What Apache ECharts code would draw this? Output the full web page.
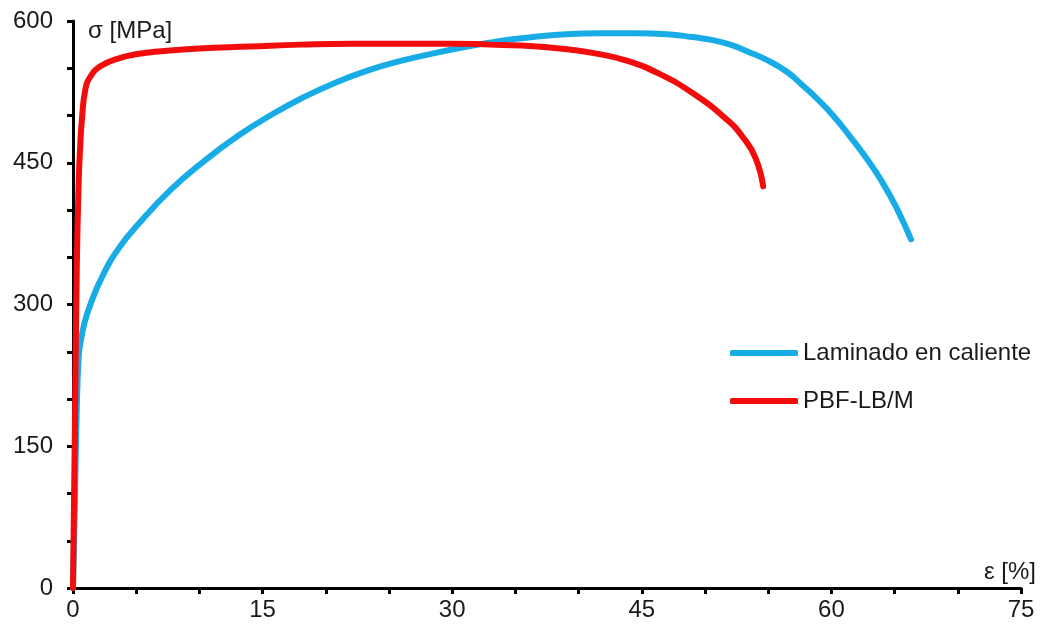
<!DOCTYPE html>
<html>
<head>
<meta charset="utf-8">
<script src="https://cdn.jsdelivr.net/npm/echarts@6/dist/echarts.min.js"></script>
<style>
  html, body { margin: 0; padding: 0; background: #fff; }
  #chart { width: 1043px; height: 632px; }
</style>
</head>
<body>
<div id="chart"></div>
<script>
// Tensile stress–strain curves: hot-rolled vs. PBF-LB/M
const seriesNames = ['Laminado en caliente', 'PBF-LB/M'];

// Hot-rolled: strain [%] and stress [MPa]
const laminadoStrain = [0, 0.15, 0.3, 0.45, 0.6, 0.9, 1.4, 2.4, 3.7, 5.1, 7.7, 10.3, 13.0, 15.6, 18.2, 20.8, 23.4, 26.0, 28.6, 31.2, 33.8, 36.4, 39.0, 41.7, 44.5, 47.0, 49.0, 50.5, 52.0, 53.5, 55.0, 56.5, 57.8, 59.0, 60.2, 61.4, 62.7, 64.0, 65.2, 66.3];
const laminadoStress = [0, 90, 190, 245, 260, 280, 301, 332, 361, 384, 421, 451, 478, 500, 519, 535, 548, 558, 566, 573, 579, 583, 586, 587, 587, 586, 583, 580, 575, 567, 558, 546, 531, 516, 499, 479, 456, 430, 401, 369];

// PBF-LB/M: strain [%] and stress [MPa]
const pbfStrain = [0, 0.15, 0.3, 0.45, 0.58, 0.7, 0.97, 1.37, 2.16, 3.5, 5.1, 7.0, 10.0, 14.0, 18.0, 22.0, 26.0, 30.0, 33.0, 35.5, 38.5, 41.2, 43.8, 46.4, 49.1, 51.7, 53.0, 54.0, 54.6];
const pbfStress = [0, 170, 340, 430, 470, 495, 527, 541, 552, 560, 565, 568, 571, 573, 575, 576, 576, 576, 575, 574, 571, 566, 558, 544, 523, 496, 477, 455, 425];

const xTicks = [0, 15, 30, 45, 60, 75];
const yTicks = [0, 150, 300, 450, 600];

const pairs = (xs, ys) => xs.map((x, i) => [x, ys[i]]);
const ink = '#1a1a1a';
const font = 'Liberation Sans, Arial, sans-serif';

const chart = echarts.init(document.getElementById('chart'), null, { renderer: 'canvas' });
chart.setOption({
  backgroundColor: '#ffffff',
  animation: false,
  grid: { left: 73, right: 22, top: 21, bottom: 44, containLabel: false },
  legend: {
    orient: 'vertical',
    left: 730,
    top: 341,
    padding: 0,
    itemWidth: 68,
    itemHeight: 6,
    itemGap: 24,
    icon: 'roundRect',
    textStyle: { fontSize: 24, color: ink, fontFamily: font, lineHeight: 24 },
    data: seriesNames
  },
  xAxis: {
    type: 'value',
    min: xTicks[0],
    max: xTicks[xTicks.length - 1],
    interval: 15,
    name: 'ε [%]',
    nameLocation: 'end',
    nameGap: -11,
    nameTextStyle: { fontSize: 24, color: ink, fontFamily: font, align: 'center', verticalAlign: 'bottom', padding: [0, 0, 4, 0] },
    axisLine: { onZero: false, lineStyle: { color: '#000', width: 3 } },
    axisTick: { show: true, inside: false, length: 6, lineStyle: { color: '#000', width: 3 } },
    minorTick: { show: true, splitNumber: 3, length: 6, lineStyle: { color: '#000', width: 3 } },
    axisLabel: { fontSize: 24, color: ink, fontFamily: font, margin: 10 },
    splitLine: { show: false }
  },
  yAxis: {
    type: 'value',
    min: yTicks[0],
    max: yTicks[yTicks.length - 1],
    interval: 150,
    name: 'σ [MPa]',
    nameLocation: 'end',
    nameGap: -10,
    nameTextStyle: { fontSize: 24, color: ink, fontFamily: font, align: 'left', verticalAlign: 'middle', padding: [0, 0, 0, 15] },
    axisLine: { onZero: false, lineStyle: { color: '#000', width: 3 } },
    axisTick: { show: true, inside: false, length: 6, lineStyle: { color: '#000', width: 3 } },
    minorTick: { show: true, splitNumber: 3, length: 6, lineStyle: { color: '#000', width: 3 } },
    axisLabel: { fontSize: 24, color: ink, fontFamily: font, margin: 20 },
    splitLine: { show: false }
  },
  series: [
    {
      name: seriesNames[0],
      type: 'line',
      data: pairs(laminadoStrain, laminadoStress),
      showSymbol: false,
      smooth: 0.5,
      smoothConstraint: false,
      color: '#18ace6',
      lineStyle: { color: '#18ace6', width: 6, cap: 'round', join: 'round' },
      z: 2
    },
    {
      name: seriesNames[1],
      type: 'line',
      data: pairs(pbfStrain, pbfStress),
      showSymbol: false,
      smooth: 0.5,
      smoothConstraint: false,
      color: '#f20c0c',
      lineStyle: { color: '#f20c0c', width: 6, cap: 'round', join: 'round' },
      z: 3
    }
  ]
});
</script>
</body>
</html>
